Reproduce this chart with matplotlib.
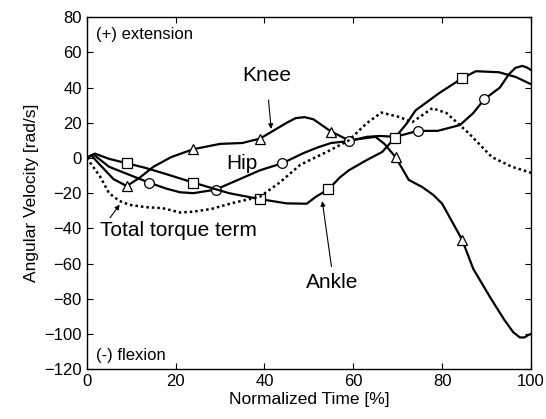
import matplotlib
matplotlib.use('Agg')
import matplotlib.pyplot as plt

plt.rcParams['font.family'] = ['Liberation Sans', 'DejaVu Sans']

# Knee (triangles)
knee_x = [0, 1, 3, 6, 9, 12, 15, 19, 24, 30, 35, 39, 43, 45, 47, 49, 51, 53, 55, 59, 62, 65, 67,
          69.5, 72.5, 75.5, 78, 80, 84.5, 87, 91, 94, 96, 97.5, 98.5, 99.5, 100]
knee_y = [0, 1.5, -4, -12, -16, -11, -5, 0.5, 5, 8, 8.5, 11, 17, 20, 22.6, 23.2, 22, 18.5, 15, 10,
          11, 12, 8, 0.5, -12.5, -16.5, -21, -26, -46.5, -63, -80, -92, -99, -102, -102, -100.5, -100]
knee_marks = [4, 8, 11, 18, 23, 28]

# Hip (circles)
hip_x = [0, 1.5, 5, 10, 14, 18, 21, 24, 29, 34, 39, 44, 49, 52, 55, 59, 63, 66, 69.5, 74.5,
         79, 84, 87, 89.5, 93, 95, 96.5, 98, 99, 100]
hip_y = [0, 2, -5, -10, -14, -17.5, -19.5, -20, -18, -12.5, -7, -3, 3, 6, 8.5, 9.6, 12, 12.5, 12,
         15.4, 15.4, 18.7, 25.5, 33.4, 40, 47.5, 51.2, 52.3, 51.5, 50]
hip_marks = [4, 8, 11, 15, 19, 23]

# Ankle (squares)
ankle_x = [0, 1.8, 5, 9, 13, 17, 24, 28, 32, 39, 45, 49.5, 51.6, 54.4, 57, 59, 63, 66.5, 69.4,
           72, 74, 79.3, 84.5, 87.6, 92.8, 96.6, 99.5, 100]
ankle_y = [0, 2.5, -0.5, -3, -5.5, -8.5, -14, -17, -20, -23.4, -25.8, -26, -22, -17.8, -11, -7,
           -1.2, 3.4, 11.6, 19.5, 27, 36.8, 45.3, 49.3, 48.7, 46, 42.5, 42]
ankle_marks = [3, 6, 9, 13, 18, 22]

# Total torque term (dotted)
total_x = [0, 3, 5, 7.4, 9.7, 13.5, 17, 21, 24, 28, 32.8, 39, 43.4, 48, 52, 54, 59, 63, 66.3,
           70.3, 73.3, 77.8, 81, 86, 91.2, 95.7, 99.5, 100]
total_y = [0, -10.6, -20, -24.5, -26.7, -28, -28.5, -31, -30.5, -29, -25.6, -22, -14, -4, 1, 3.4,
           10, 19.7, 25.8, 23.3, 20.4, 28.3, 25.5, 14, 0.5, -5, -8, -8.5]

fig = plt.figure(figsize=(5.46, 4.19), dpi=100)
ax = fig.add_axes([0.159, 0.119, 0.8135, 0.84])

mk = dict(color='black', lw=1.6, markersize=7, markerfacecolor='white',
          markeredgecolor='black', markeredgewidth=0.9, solid_joinstyle='round')
ax.plot(knee_x, knee_y, marker='^', markevery=knee_marks, **mk)
ax.plot(hip_x, hip_y, marker='o', markevery=hip_marks, **mk)
ax.plot(ankle_x, ankle_y, marker='s', markevery=ankle_marks, **mk)
ax.plot(total_x, total_y, color='black', lw=1.8, linestyle=(0, (1, 1.2)))

ax.set_xlim(0, 100)
ax.set_ylim(-120, 80)
ax.set_xticks(range(0, 101, 20))
ax.set_yticks(range(-120, 81, 20))
ax.tick_params(direction='in', top=True, right=True, labelsize=12, length=4.5)
ax.set_xlabel('Normalized Time [%]', fontsize=12.5, labelpad=2)
ax.set_ylabel('Angular Velocity [rad/s]', fontsize=12.5, labelpad=4)
for s in ax.spines.values():
    s.set_linewidth(1.0)

ax.text(2, 70.3, '(+) extension', fontsize=12, va='center', ha='left')
ax.text(2, -112.4, '(-) flexion', fontsize=12, va='center', ha='left')
ax.text(35, -3, 'Hip', fontsize=15, va='center', ha='center')

arr = dict(arrowstyle='-|>', color='black', lw=0.8, mutation_scale=7, shrinkA=0, shrinkB=0)
ax.annotate('Knee', xy=(41.5, 16.5), xytext=(40.4, 47), fontsize=15, ha='center', va='center',
            arrowprops=dict(arr, shrinkA=9))
ax.annotate('Total torque term', xy=(7.4, -26.5), xytext=(3, -41), fontsize=15, ha='left',
            va='center', arrowprops=dict(arr, relpos=(0.05, 1.0)))
ax.annotate('Ankle', xy=(53, -24.5), xytext=(55.3, -71), fontsize=15, ha='center', va='center',
            arrowprops=dict(arr, relpos=(0.5, 1.0), shrinkA=3))

fig.savefig('out.png', dpi=100)
